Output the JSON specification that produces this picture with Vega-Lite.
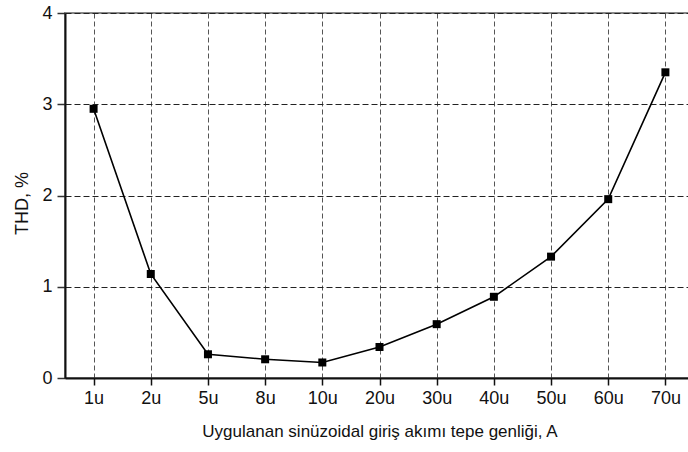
{
  "$schema": "https://vega.github.io/schema/vega-lite/v6.json",
  "autosize": "none",
  "padding": {"left": 65, "top": 13, "right": 0, "bottom": 74},
  "width": 629,
  "height": 365,
  "background": "white",
  "config": {
    "font": "Liberation Sans",
    "view": {"stroke": "#888888", "strokeWidth": 2}
  },
  "data": {
    "values": [
      {"amp": "1u", "thd": 2.95},
      {"amp": "2u", "thd": 1.14},
      {"amp": "5u", "thd": 0.26},
      {"amp": "8u", "thd": 0.205},
      {"amp": "10u", "thd": 0.17},
      {"amp": "20u", "thd": 0.34},
      {"amp": "30u", "thd": 0.59},
      {"amp": "40u", "thd": 0.89},
      {"amp": "50u", "thd": 1.33},
      {"amp": "60u", "thd": 1.96},
      {"amp": "70u", "thd": 3.35}
    ]
  },
  "encoding": {
    "x": {
      "field": "amp", "type": "ordinal", "sort": null,
      "scale": {"type": "point", "padding": 0.5},
      "axis": {
        "title": "Uygulanan sinüzoidal giriş akımı tepe genliği, A",
        "titleFontSize": 17, "titleFontWeight": "normal", "titleColor": "#111",
        "titlePadding": 16,
        "labelAngle": 0, "labelFontSize": 18, "labelColor": "#111", "labelPadding": 4,
        "domainColor": "#111", "domainWidth": 2,
        "tickColor": "#111", "tickSize": 7, "tickWidth": 1.5,
        "grid": true, "gridColor": "#555", "gridDash": [5, 3], "gridWidth": 1
      }
    },
    "y": {
      "field": "thd", "type": "quantitative",
      "scale": {"domain": [0, 4], "nice": false},
      "axis": {
        "title": "THD, %", "titleFontSize": 18, "titleFontWeight": "normal", "titleColor": "#111",
        "titlePadding": 10, "titleY": 190,
        "values": [0, 1, 2, 3, 4],
        "labelFontSize": 18, "labelColor": "#111", "labelPadding": 5,
        "domainColor": "#111", "domainWidth": 2,
        "tickColor": "#333", "tickSize": 8, "tickWidth": 1.5,
        "grid": true, "gridColor": "#222", "gridDash": [6, 3], "gridWidth": 1
      }
    }
  },
  "layer": [
    {"mark": {"type": "line", "color": "black", "strokeWidth": 1.6}},
    {"mark": {"type": "square", "color": "black", "filled": true, "opacity": 1, "size": 64}}
  ]
}
